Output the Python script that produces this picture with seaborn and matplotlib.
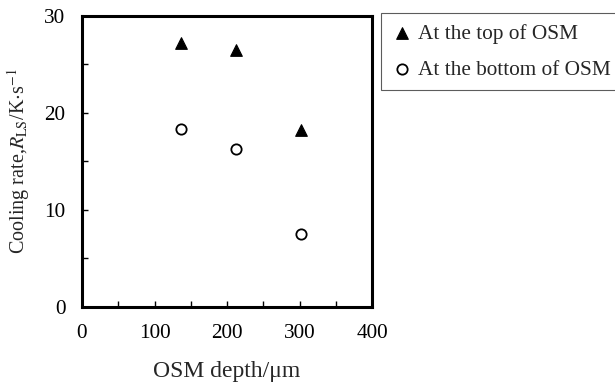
import matplotlib
matplotlib.use("Agg")
import matplotlib.pyplot as plt
from matplotlib.ticker import MultipleLocator
import seaborn as sns
import pandas as pd

depth = [136, 212, 302]
rate_top = [27.2, 26.5, 18.2]
rate_bottom = [18.4, 16.3, 7.5]
series_names = ["At the top of OSM", "At the bottom of OSM"]

df = pd.DataFrame({
    "depth": depth * 2,
    "rate": rate_top + rate_bottom,
    "series": [series_names[0]] * 3 + [series_names[1]] * 3,
})

sns.set_theme(style="ticks")
plt.rcParams["font.family"] = ["Liberation Serif", "DejaVu Serif"]
plt.rcParams["mathtext.fontset"] = "stix"

fig = plt.figure(figsize=(6.15, 3.89), dpi=100)
ax = fig.add_axes([0.1333, 0.2108, 0.4717, 0.7481])

sns.scatterplot(data=df[df.series == series_names[0]], x="depth", y="rate",
                marker="^", color="black", edgecolor="black", s=110,
                linewidth=0.8, ax=ax, label=series_names[0], zorder=3)
sns.scatterplot(data=df[df.series == series_names[1]], x="depth", y="rate",
                marker="o", facecolor="white", edgecolor="black", s=80,
                linewidth=1.3, ax=ax, label=series_names[1], zorder=3)

ax.set_xlim(0, 400)
ax.set_ylim(0, 30)
ax.xaxis.set_major_locator(MultipleLocator(100))
ax.xaxis.set_minor_locator(MultipleLocator(50))
ax.yaxis.set_major_locator(MultipleLocator(10))
ax.yaxis.set_minor_locator(MultipleLocator(5))
ax.tick_params(which="both", direction="in", length=4, width=1, colors="black",
               labelsize=15.3, pad=12)
for sp in ax.spines.values():
    sp.set_linewidth(2.2)
    sp.set_color("black")

ax.set_xlabel("OSM depth/μm", fontsize=17, labelpad=13)
ax.set_ylabel(r"Cooling rate,$\mathit{R}_{\rm LS}$/K$\cdot$s$^{-1}$", fontsize=14.5, labelpad=9)

ax.get_legend().remove()
handles, labels = ax.get_legend_handles_labels()
handles[0].set_sizes([70])
handles[1].set_sizes([55])
leg = fig.legend(handles, labels, loc="upper left", bbox_to_anchor=(0.619, 0.966),
                 fontsize=15.3, frameon=True, fancybox=False, edgecolor="#333333",
                 handletextpad=0.25, borderpad=0.5, labelspacing=0.75,
                 handlelength=1.0, borderaxespad=0)
leg.get_frame().set_linewidth(0.8)

fig.savefig("out.png", dpi=100)
